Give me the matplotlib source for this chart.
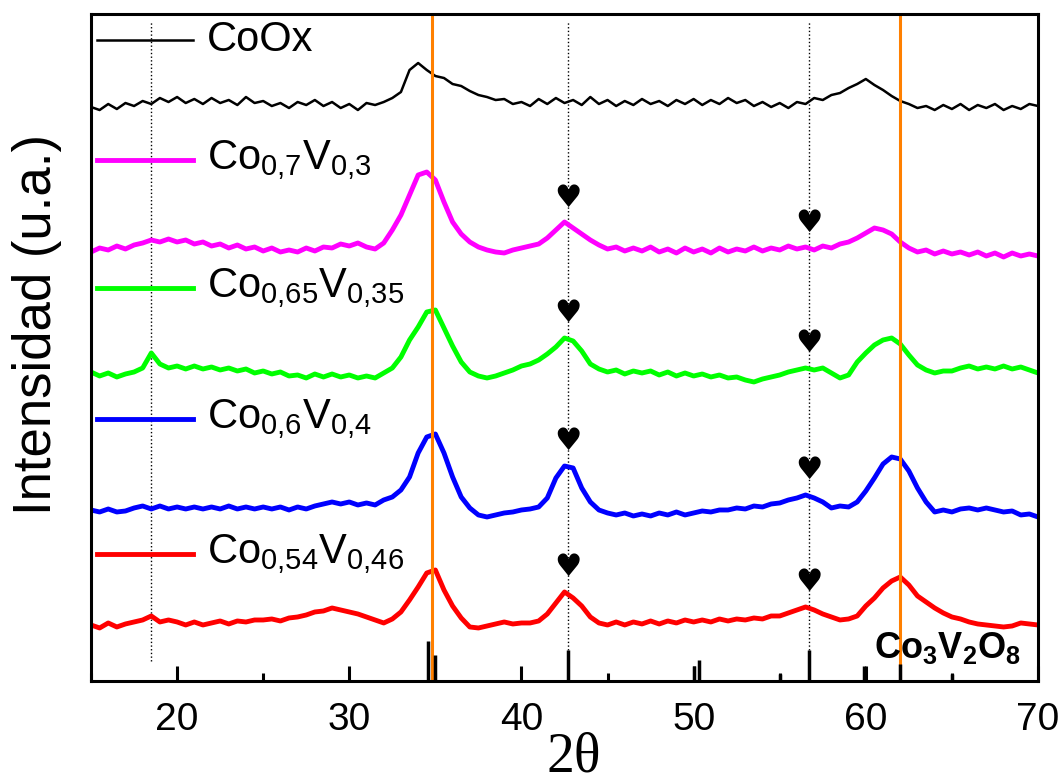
import matplotlib
matplotlib.use('Agg')
from matplotlib import pyplot as plt

plt.rcParams['font.family'] = ['Liberation Sans', 'DejaVu Sans']
plt.rcParams['mathtext.fontset'] = 'custom'
plt.rcParams['mathtext.rm'] = 'Liberation Sans'
plt.rcParams['mathtext.it'] = 'Liberation Sans:italic'
plt.rcParams['mathtext.bf'] = 'Liberation Sans:bold'

# 2theta (deg)
two_theta = [15.0, 15.5, 16.0, 16.5, 17.0, 17.5, 18.0, 18.5, 19.0, 19.5,
             20.0, 20.5, 21.0, 21.5, 22.0, 22.5, 23.0, 23.5, 24.0, 24.5,
             25.0, 25.5, 26.0, 26.5, 27.0, 27.5, 28.0, 28.5, 29.0, 29.5,
             30.0, 30.5, 31.0, 31.5, 32.0, 32.5, 33.0, 33.5, 34.0, 34.5,
             35.0, 35.5, 36.0, 36.5, 37.0, 37.5, 38.0, 38.5, 39.0, 39.5,
             40.0, 40.5, 41.0, 41.5, 42.0, 42.5, 43.0, 43.5, 44.0, 44.5,
             45.0, 45.5, 46.0, 46.5, 47.0, 47.5, 48.0, 48.5, 49.0, 49.5,
             50.0, 50.5, 51.0, 51.5, 52.0, 52.5, 53.0, 53.5, 54.0, 54.5,
             55.0, 55.5, 56.0, 56.5, 57.0, 57.5, 58.0, 58.5, 59.0, 59.5,
             60.0, 60.5, 61.0, 61.5, 62.0, 62.5, 63.0, 63.5, 64.0, 64.5,
             65.0, 65.5, 66.0, 66.5, 67.0, 67.5, 68.0, 68.5, 69.0, 69.5,
             70.0]

# intensidades (u.a.), ya desplazadas
coox = [574, 571, 577, 572, 578, 575, 580, 577, 583, 579,
        584, 578, 582, 577, 583, 578, 581, 576, 584, 578,
        580, 575, 578, 573, 579, 576, 581, 575, 579, 573,
        577, 571, 578, 576, 579, 583, 589, 611, 618, 611,
        605, 603, 597, 595, 590, 586, 584, 581, 582, 577,
        579, 575, 582, 577, 583, 578, 581, 576, 584, 577,
        581, 575, 580, 576, 582, 577, 580, 575, 581, 577,
        582, 576, 581, 577, 583, 578, 581, 575, 579, 574,
        578, 573, 579, 577, 583, 581, 586, 588, 593, 597,
        602, 596, 591, 585, 580, 577, 573, 575, 571, 576,
        572, 577, 571, 576, 573, 577, 571, 575, 572, 577,
        575]

co70 = [429, 433, 431, 435, 432, 436, 438, 441, 439, 442,
        439, 441, 437, 439, 435, 437, 433, 436, 432, 434,
        430, 433, 429, 431, 429, 433, 430, 434, 433, 437,
        435, 438, 434, 432, 438, 451, 466, 486, 506, 509,
        501, 479, 459, 447, 439, 434, 431, 429, 428, 431,
        433, 435, 437, 443, 451, 459, 453, 447, 441, 436,
        432, 434, 430, 433, 430, 434, 429, 432, 428, 433,
        429, 432, 428, 433, 429, 432, 430, 434, 430, 433,
        431, 435, 432, 434, 431, 435, 433, 437, 439, 443,
        448, 453, 451, 447, 439, 433, 429, 431, 427, 430,
        427, 429, 426, 429, 425, 428, 424, 428, 425, 427,
        425]

co65 = [309, 305, 308, 304, 307, 309, 313, 328, 317, 313,
        315, 312, 315, 312, 314, 311, 313, 310, 312, 308,
        310, 307, 309, 305, 306, 303, 307, 304, 307, 304,
        306, 303, 305, 303, 308, 313, 324, 341, 354, 369,
        371, 353, 335, 319, 309, 305, 303, 305, 308, 311,
        315, 317, 321, 327, 334, 343, 340, 330, 317, 312,
        309, 311, 307, 310, 308, 310, 306, 309, 305, 308,
        305, 307, 304, 306, 303, 304, 301, 299, 302, 304,
        306, 309, 311, 313, 311, 313, 308, 303, 306, 319,
        328, 336, 341, 343, 337, 326, 316, 311, 308, 310,
        310, 313, 315, 312, 314, 312, 315, 312, 314, 311,
        308]

co60 = [171, 169, 172, 169, 170, 173, 175, 172, 175, 172,
        174, 172, 174, 172, 174, 172, 175, 172, 174, 172,
        174, 172, 174, 171, 174, 172, 175, 177, 179, 177,
        179, 176, 178, 176, 181, 184, 191, 204, 228, 244,
        247, 228, 204, 184, 173, 166, 164, 166, 168, 169,
        171, 172, 174, 183, 203, 215, 213, 193, 179, 171,
        168, 166, 168, 165, 167, 165, 168, 166, 169, 166,
        168, 170, 169, 171, 171, 173, 172, 175, 174, 177,
        178, 181, 183, 186, 183, 179, 173, 175, 174, 179,
        190, 203, 217, 224, 222, 210, 193, 179, 169, 171,
        169, 172, 173, 171, 173, 171, 169, 170, 166, 167,
        164]

co54 = [56, 53, 58, 54, 57, 59, 61, 65, 59, 61,
        59, 56, 59, 56, 58, 60, 57, 60, 59, 61,
        61, 62, 60, 63, 64, 66, 69, 70, 73, 71,
        69, 67, 64, 61, 58, 62, 69, 81, 94, 108,
        111, 91, 75, 63, 54, 53, 55, 57, 59, 57,
        58, 58, 60, 67, 78, 89, 83, 75, 64, 58,
        56, 59, 56, 59, 57, 60, 57, 60, 58, 61,
        59, 61, 59, 62, 60, 62, 61, 63, 62, 65,
        65, 68, 71, 74, 71, 67, 64, 61, 62, 65,
        75, 83, 93, 100, 104, 96, 85, 79, 73, 68,
        64, 62, 59, 57, 56, 55, 54, 55, 58, 57,
        56]

series = [coox, co70, co65, co60, co54]
colors = ['black', '#FF00FF', '#00FF00', '#0000FF', '#FF0000']
widths = [1.8, 3.5, 3.5, 3.5, 3.5]
labels = ['CoOx', 'Co$_{0{,}7}$V$_{0{,}3}$', 'Co$_{0{,}65}$V$_{0{,}35}$',
          'Co$_{0{,}6}$V$_{0{,}4}$', 'Co$_{0{,}54}$V$_{0{,}46}$']
label_y = [0.961, 0.781, 0.589, 0.393, 0.190]

# Co3V2O8 (patron de referencia)
ref_pos = [34.6, 35.0, 42.7, 50.0, 50.3, 55.0, 56.7, 59.9, 62.0, 65.0]
ref_int = [40, 26, 31, 15, 21, 7, 31, 15, 17, 7]

orange_pos = [34.8, 62.0]
dotted_pos = [18.5, 42.7, 56.7]
heart_pos = [42.7, 56.7]

fig = plt.figure(figsize=(10.62, 7.83), dpi=100)
ax = fig.add_axes([0.0857, 0.1303, 0.8917, 0.8518])

for x in dotted_pos:
    ax.axvline(x, ymin=0.03, ymax=0.99, color='black', ls=':', lw=1)

for y, c, w in zip(series, colors, widths):
    ax.plot(two_theta, y, color=c, lw=w)

for x in orange_pos:
    ax.axvline(x, color='#FF8000', lw=2.2)

ax.vlines(ref_pos, 0, ref_int, color='black', lw=2.5)

# corazones sobre los picos
for y in series[1:]:
    for hx in heart_pos:
        i = min(range(len(two_theta)), key=lambda k: abs(two_theta[k] - hx))
        ax.text(hx, max(y[i - 1:i + 2]) + 24, '\u2665', fontsize=22,
                family='DejaVu Sans', ha='center', va='center')

for lab, ly, c, w in zip(labels, label_y, colors, widths):
    ax.plot([0.006, 0.108], [ly, ly], color=c, lw=w, transform=ax.transAxes)
    ax.text(0.1225, ly, lab, fontsize=30, ha='left', va='center',
            transform=ax.transAxes)

ax.text(0.982, 0.05, r'$\mathbf{Co_3V_2O_8}$', fontsize=26,
        ha='right', va='center', transform=ax.transAxes)

ax.set_xlim(15, 70)
ax.set_ylim(0, 667)
ax.set_xticks([20, 30, 40, 50, 60, 70])
ax.set_xticks([15, 25, 35, 45, 55, 65], minor=True)
ax.set_yticks([])
ax.tick_params(axis='x', which='major', direction='in', length=11, width=2.2,
               labelsize=28, pad=15)
ax.tick_params(axis='x', which='minor', direction='in', length=6, width=2.2)
for s in ax.spines.values():
    s.set_linewidth(2.2)

ax.text(-0.057, 0.534, 'Intensidad (u.a.)', fontsize=38, rotation=90,
        ha='center', va='center', transform=ax.transAxes)
ax.text(0.51, -0.115, '2\u03b8', fontsize=40, family='Liberation Serif',
        ha='center', va='center', transform=ax.transAxes)

fig.savefig('out.png', dpi=100)
